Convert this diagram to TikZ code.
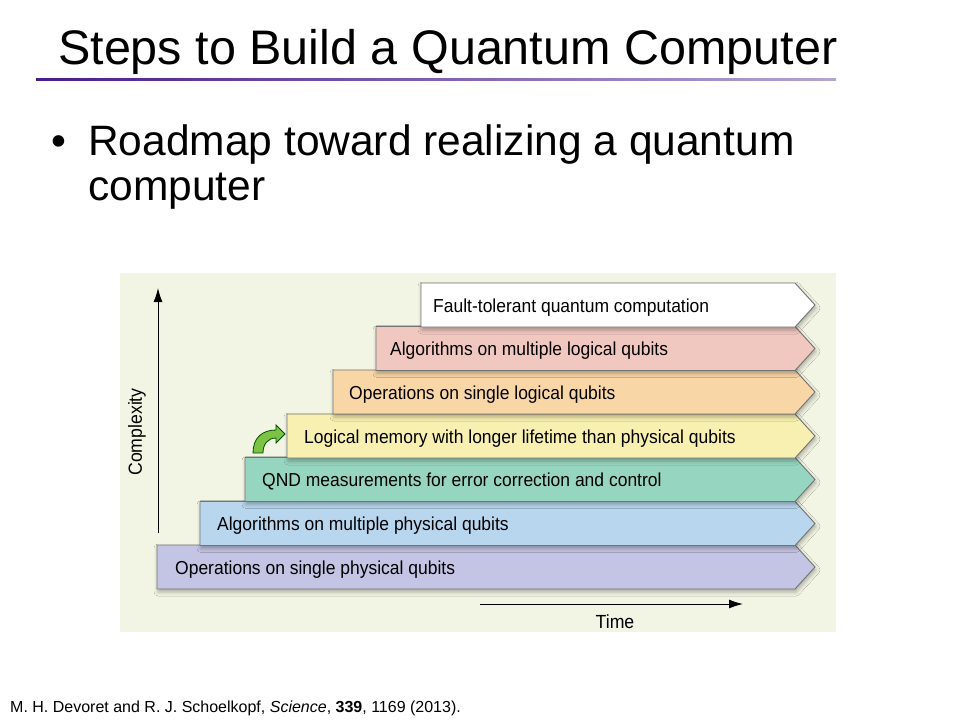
\documentclass[tikz,border=0pt]{standalone}
\usepackage{fontspec}
\setmainfont{Liberation Sans}
\newfontfamily\narrowfont[FakeStretch=0.93]{Liberation Sans}
\usepackage{xcolor}
\usepackage{tikz}
\usetikzlibrary{arrows.meta,shadows.blur}

\definecolor{panelbg}{RGB}{243,245,228}
\definecolor{titleline}{RGB}{72,28,140}
\definecolor{opphys}{RGB}{196,196,228}
\definecolor{algphys}{RGB}{184,214,238}
\definecolor{qndcol}{RGB}{150,214,192}
\definecolor{memcol}{RGB}{248,240,176}
\definecolor{oplog}{RGB}{249,214,166}
\definecolor{alglog}{RGB}{241,200,192}
\definecolor{arrowgreen}{RGB}{124,194,67}

\tikzset{
  stepbar/.style={draw=black!55, line width=0.9pt,
    blur shadow={shadow xshift=1pt, shadow yshift=-3pt, shadow blur radius=4pt, shadow opacity=30}},
  bartext/.style={anchor=base west, inner sep=0pt, font=\narrowfont\fontsize{18.8}{21}\selectfont},
  axislabel/.style={inner sep=0pt, font=\narrowfont\fontsize{19}{22}\selectfont},
  axisarrow/.style={-{Latex[length=14pt,width=9pt]}, line width=1pt},
  slidetext/.style={anchor=base west, inner sep=0pt, font=\fontsize{42.5}{45}\selectfont}
}

\begin{document}
\begin{tikzpicture}[x=1pt, y=-1pt]
  \useasboundingbox (0,0) rectangle (960,720);
  \fill[white] (0,0) rectangle (960,720);

  % Title
  \node[anchor=base west, inner sep=0pt, font=\fontsize{48.5}{58}\selectfont] (title) at (58,64) {Steps to Build a Quantum Computer};
  \shade[left color=titleline, right color=titleline!40] (36,78.5) rectangle (836,80.5);

  % Bullet
  \node[slidetext, anchor=base] (dot) at (59,155) {\textbullet};
  \node[slidetext] (bullet) at (88,155) {Roadmap toward realizing a quantum};
  \node[slidetext] (bulletcont) at (88,200) {computer};

  % Figure panel
  \fill[panelbg] (120,273) rectangle (836,632);

  % Axes
  \coordinate (ytop) at (158,288);
  \coordinate (ybot) at (158,533);
  \draw[axisarrow] (ybot) -- (ytop);
  \node[axislabel, rotate=90] (complexity) at (137,432) {Complexity};
  \coordinate (tleft) at (480,604);
  \coordinate (tright) at (743,604);
  \draw[axisarrow] (tleft) -- (tright);
  \node[axislabel] (time) at (615,622) {Time};

  % Steps, from the bottom up
  \draw[stepbar, fill=opphys] (157,545) -- (795,545) -- (815,567) -- (795,589) -- (157,589) -- cycle;
  \node[bartext] (opphysical) at (175,574) {Operations on single physical qubits};

  \draw[stepbar, fill=algphys] (200,501.5) -- (795,501.5) -- (815,523.5) -- (795,545.5) -- (200,545.5) -- cycle;
  \node[bartext] (algphysical) at (217,530.5) {Algorithms on multiple physical qubits};

  \draw[stepbar, fill=qndcol] (245,457.5) -- (795,457.5) -- (815,479.5) -- (795,501.5) -- (245,501.5) -- cycle;
  \node[bartext] (qnd) at (262,486.5) {QND measurements for error correction and control};

  \draw[stepbar, fill=memcol] (287,414) -- (795,414) -- (815,436) -- (795,458) -- (287,458) -- cycle;
  \node[bartext] (memory) at (304,443) {Logical memory with longer lifetime than physical qubits};

  \draw[stepbar, fill=oplog] (333,370) -- (795,370) -- (815,392) -- (795,414) -- (333,414) -- cycle;
  \node[bartext] (oplogical) at (349,399) {Operations on single logical qubits};

  \draw[stepbar, fill=alglog] (376,326.5) -- (795,326.5) -- (815,348.5) -- (795,370.5) -- (376,370.5) -- cycle;
  \node[bartext] (alglogical) at (390,355.5) {Algorithms on multiple logical qubits};

  \draw[stepbar, fill=white] (421,283) -- (795,283) -- (815,305) -- (795,327) -- (421,327) -- cycle;
  \node[bartext] (faulttolerant) at (433,312) {Fault-tolerant quantum computation};

  % Green step arrow
  \draw[fill=arrowgreen, draw=black!70!green, line width=0.8pt]
    (253,453) .. controls (253,438) and (262,430) .. (276,430) -- (276,425) -- (285,434)
    -- (276,443) -- (276,438) .. controls (268,438) and (263,444) .. (263,453) -- cycle;

  % Reference
  \node[anchor=base west, inner sep=0pt, font=\fontsize{16}{19}\selectfont] (cite) at (10,712)
    {M. H. Devoret and R. J. Schoelkopf, \textit{Science}, \textbf{339}, 1169 (2013).};
\end{tikzpicture}
\end{document}
